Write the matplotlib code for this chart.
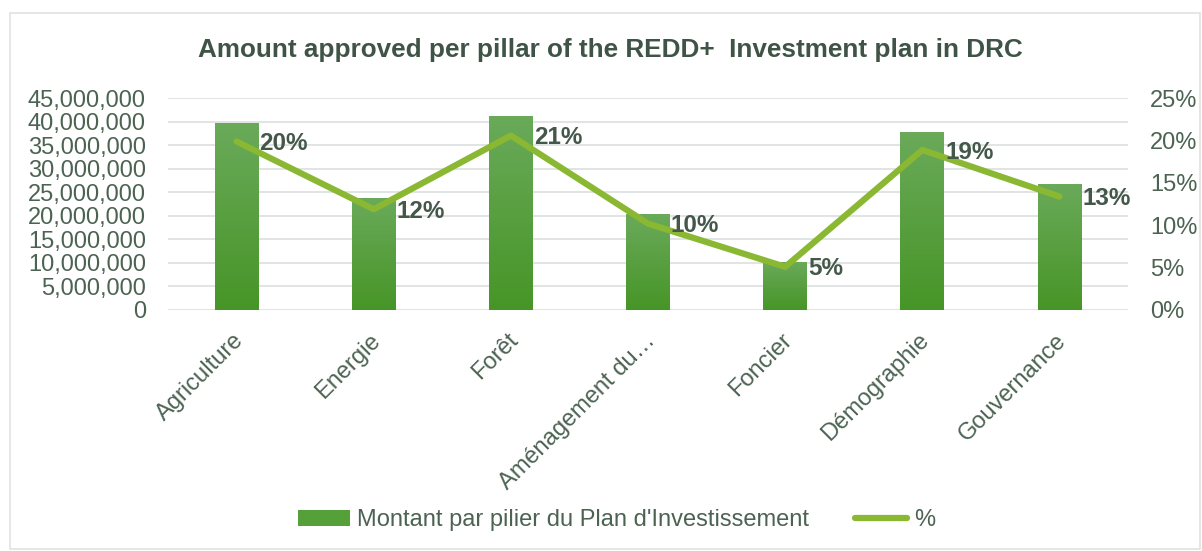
import numpy as np
import matplotlib
matplotlib.use("Agg")
import matplotlib.pyplot as plt
import matplotlib.transforms as mtransforms
from matplotlib.patches import Patch, Rectangle
from matplotlib.lines import Line2D
from matplotlib.ticker import FuncFormatter, MultipleLocator

# ---- data ----
categories = ["Agriculture", "Energie", "Forêt", "Aménagement du…",
              "Foncier", "Démographie", "Gouvernance"]
amounts = [39.8e6, 23.8e6, 41.3e6, 20.4e6, 10.3e6, 37.9e6, 26.8e6]
shares = [0.199, 0.119, 0.206, 0.102, 0.051, 0.189, 0.134]
title = "Amount approved per pillar of the REDD+  Investment plan in DRC"
bar_label = "Montant par pilier du Plan d'Investissement"
line_label = "%"

TXT = "#4c6352"
DARK = "#44584a"
GRID = "#dde3e1"
LINE = "#8ab833"
plt.rcParams["font.family"] = ["Liberation Sans", "DejaVu Sans"]

fig = plt.figure(figsize=(12.02, 5.51), dpi=100)
ax = fig.add_axes([0.1398, 0.4374, 0.7987, 0.3842])
ax2 = ax.twinx()

x = np.arange(len(categories))
bars = ax.bar(x, amounts, width=0.32, color="#56a03a", zorder=2)
# vertical gradient inside each bar (lighter top, darker bottom)
grad = np.linspace(0, 1, 256).reshape(-1, 1)
cmap = matplotlib.colors.LinearSegmentedColormap.from_list("g", ["#479527", "#6aaa5a"])
for b in bars:
    x0, w, h = b.get_x(), b.get_width(), b.get_height()
    im = ax.imshow(grad, extent=[x0, x0 + w, 0, h], origin="lower", cmap=cmap,
                   aspect="auto", zorder=2.1)
    im.set_clip_path(b)

ax.set_xlim(-0.5, len(categories) - 0.5)
ax.set_ylim(0, 45e6)
ax.yaxis.set_major_locator(MultipleLocator(5e6))
ax.yaxis.set_major_formatter(FuncFormatter(lambda v, p: f"{v:,.0f}"))
ax.grid(axis="y", color=GRID, lw=1.3, zorder=0)
ax.set_axisbelow(True)
for s in list(ax.spines.values()) + list(ax2.spines.values()):
    s.set_visible(False)
ax.tick_params(axis="y", length=0, pad=16, labelsize=17, labelcolor=TXT)
ax.tick_params(axis="x", length=0, pad=14, labelsize=17, labelcolor=TXT)
ax.set_xticks(x)
ax.set_xticklabels(categories, rotation=45, ha="right", va="top", rotation_mode="anchor")
shift = mtransforms.ScaledTranslation(-4 / 100, 0, fig.dpi_scale_trans)
for lab in ax.get_xticklabels():
    lab.set_transform(lab.get_transform() + shift)

ax2.plot(x, shares, color=LINE, lw=4.5, solid_capstyle="round", zorder=3)
ax2.set_ylim(0, 0.25)
ax2.yaxis.set_major_locator(MultipleLocator(0.05))
ax2.yaxis.set_major_formatter(FuncFormatter(lambda v, p: f"{v*100:.0f}%"))
ax2.tick_params(axis="y", length=0, pad=16, labelsize=17, labelcolor=TXT)
for xi, s in zip(x, shares):
    ax2.annotate(f"{s*100:.0f}%", (xi, s), xytext=(16.5, -1.5), textcoords="offset points",
                 ha="left", va="center", fontsize=17.5, fontweight="bold", color=DARK)

fig.text(0.508, 0.909, title, ha="center", va="center", fontsize=18.8,
         fontweight="bold", color="#3f5446")

handles = [Patch(facecolor="#56a03a", edgecolor="none"),
           Line2D([0], [0], color=LINE, lw=4.5, solid_capstyle="round")]
fig.legend(handles, [bar_label, line_label], loc="center", bbox_to_anchor=(0.513, 0.056),
           ncol=2, frameon=False, fontsize=17, labelcolor=TXT, handlelength=2.2,
           handletextpad=0.3, columnspacing=1.95)

fig.patches.append(Rectangle((0.008, 0.004), 0.99, 0.972, transform=fig.transFigure,
                             fill=False, edgecolor="#e2e2e2", lw=1.2))
fig.savefig("out.png", dpi=100)
